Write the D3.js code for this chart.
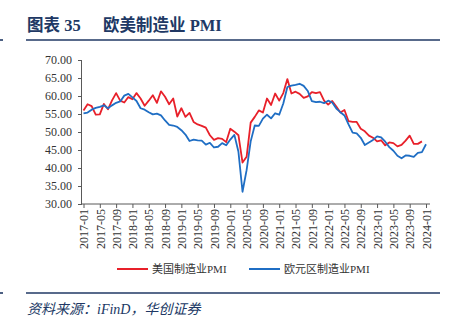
<!DOCTYPE html>
<html>
<head>
<meta charset="utf-8">
<script src="https://cdn.jsdelivr.net/npm/d3@7"></script>
<style>
  body { margin: 0; background: #fff; }
  svg { display: block; font-family: "Liberation Serif", "Noto Sans CJK SC", serif; }
</style>
</head>
<body>
<svg id="chart" width="457" height="323"></svg>
<script>
// monthly categories 2017-01 .. 2024-01
const months = d3.timeMonth.range(new Date(2017, 0, 1), new Date(2024, 1, 1)).map(d3.timeFormat("%Y-%m"));

// US ISM manufacturing PMI (2017-01 .. 2023-12)
const usPMI = [
  56.0, 57.7, 57.2, 54.8, 54.9, 57.8, 56.3, 58.8, 60.8, 58.7, 58.2, 59.7,
  59.1, 60.8, 59.3, 57.3, 58.7, 60.2, 58.1, 61.3, 59.8, 57.7, 59.3, 54.3,
  56.6, 54.2, 55.3, 52.8, 52.1, 51.7, 51.2, 49.1, 47.8, 48.3, 48.1, 47.2,
  50.9, 50.1, 49.1, 41.5, 43.1, 52.6, 54.2, 56.0, 55.4, 59.3, 57.5, 60.7,
  58.7, 60.8, 64.7, 60.7, 61.2, 60.6, 59.5, 59.9, 61.1, 60.8, 61.1, 58.7,
  57.6, 58.6, 57.1, 55.4, 56.1, 53.0, 52.8, 52.8, 50.9, 50.2, 49.0, 48.4,
  47.4, 47.7, 46.3, 47.1, 46.9, 46.0, 46.4, 47.6, 49.0, 46.7, 46.7, 47.4
];

// Eurozone manufacturing PMI (2017-01 .. 2024-01)
const euPMI = [
  55.2, 55.4, 56.2, 56.7, 57.0, 57.4, 56.6, 57.4, 58.1, 58.5, 60.1, 60.6,
  59.6, 58.6, 56.6, 56.2, 55.5, 54.9, 55.1, 54.6, 53.2, 52.0, 51.8, 51.4,
  50.5, 49.3, 47.5, 47.9, 47.7, 47.6, 46.5, 47.0, 45.7, 45.9, 46.9, 46.3,
  47.9, 49.2, 44.5, 33.4, 39.4, 47.4, 51.8, 51.7, 53.7, 54.8, 53.8, 55.2,
  54.8, 57.9, 62.5, 62.9, 63.1, 63.4, 62.8, 61.4, 58.6, 58.3, 58.4, 58.0,
  58.7, 58.2, 56.5, 55.5, 54.6, 52.1, 49.8, 49.6, 48.4, 46.4, 47.1, 47.8,
  48.8, 48.5, 47.3, 45.8, 44.8, 43.4, 42.7, 43.5, 43.4, 43.1, 44.2, 44.4,
  46.6
];

const yTicks = [30, 35, 40, 45, 50, 55, 60, 65, 70];
const seriesNames = ["美国制造业PMI", "欧元区制造业PMI"];
const seriesColors = ["#e8202a", "#1f6ec4"];

const navy = "#203864";
const axisColor = "#595959";

const svg = d3.select("#chart");

// title + rules
svg.append("text")
  .attr("x", 27)
  .attr("y", 31)
  .attr("font-size", "16.5px")
  .attr("font-weight", "bold")
  .attr("fill", navy)
  .text("图表 35");

svg.append("text")
  .attr("x", 103)
  .attr("y", 31)
  .attr("font-size", "16.5px")
  .attr("font-weight", "bold")
  .attr("fill", navy)
  .text("欧美制造业 PMI");

[40, 293].forEach(y => {
  svg.append("line").attr("x1", 26).attr("x2", 440).attr("y1", y).attr("y2", y)
    .attr("stroke", navy).attr("stroke-width", 1.6);
  svg.append("line").attr("x1", 0).attr("x2", 3).attr("y1", y).attr("y2", y)
    .attr("stroke", navy).attr("stroke-width", 1.6);
});

svg.append("text")
  .attr("x", 27)
  .attr("y", 314)
  .attr("font-size", "14px")
  .attr("font-style", "italic")
  .attr("fill", navy)
  .text("资料来源：iFinD，华创证券");

// scales
const x = d3.scalePoint().domain(months).range([83.5, 426]);
const y = d3.scaleLinear().domain([30, 70]).range([204, 60]);

// axes
const yAxis = svg.append("g")
  .attr("transform", "translate(82,0)")
  .call(d3.axisLeft(y).tickValues(yTicks).tickFormat(d3.format(".2f")).tickSize(4).tickPadding(6));

const xAxis = svg.append("g")
  .attr("transform", "translate(0,204)")
  .call(d3.axisBottom(x).tickValues(months.filter((d, i) => i % 4 === 0)).tickSize(4).tickSizeOuter(0));

xAxis.select(".domain").remove();
xAxis.append("line").attr("x1", 82).attr("x2", 430).attr("y1", 0).attr("y2", 0);

xAxis.selectAll(".tick text")
  .attr("transform", "rotate(-90)")
  .attr("text-anchor", "end")
  .attr("x", -5)
  .attr("y", 0)
  .attr("dy", "0.35em");

[xAxis, yAxis].forEach(g => {
  g.attr("font-family", "Liberation Serif").attr("font-size", "12px");
  g.selectAll("line, path").attr("stroke", axisColor);
  g.selectAll("text").attr("fill", "#333");
});
yAxis.select(".domain").attr("d", "M-0.5,60V204.5");

// lines
const line = d3.line()
  .x((d, i) => x(months[i]))
  .y(d => y(d));

[usPMI, euPMI].forEach((s, k) => {
  svg.append("path")
    .datum(s)
    .attr("fill", "none")
    .attr("stroke", seriesColors[k])
    .attr("stroke-width", 1.8)
    .attr("stroke-linejoin", "round")
    .attr("d", line);
});

// legend
const legendX = [117, 249];
seriesNames.forEach((name, k) => {
  const g = svg.append("g").attr("transform", `translate(${legendX[k]},269)`);
  g.append("line").attr("x1", 0).attr("x2", 31).attr("y1", 0).attr("y2", 0)
    .attr("stroke", seriesColors[k]).attr("stroke-width", 2);
  g.append("text")
    .attr("x", 35)
    .attr("y", 4)
    .attr("font-size", "11px")
    .attr("fill", "#333")
    .text(name);
});
</script>
</body>
</html>
